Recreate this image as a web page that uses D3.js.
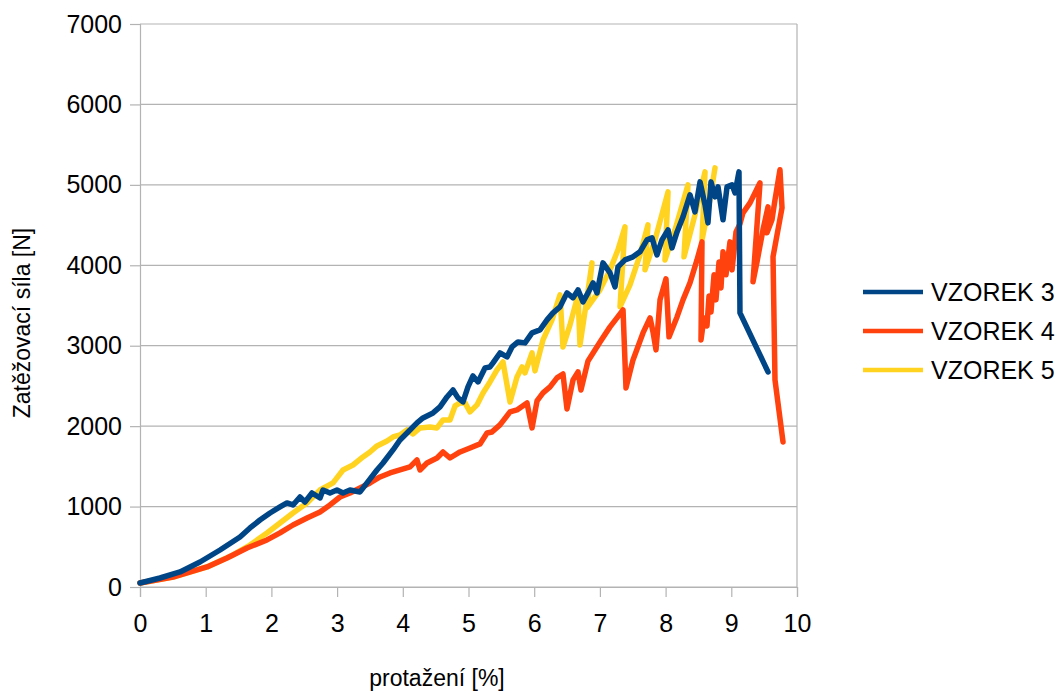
<!DOCTYPE html>
<html><head><meta charset="utf-8">
<script src="https://cdn.jsdelivr.net/npm/d3@7"></script>
<style>body{margin:0;background:#fff}text{font-family:"Liberation Sans",Arial,sans-serif;fill:#000}</style>
</head><body>
<svg id="chart" width="1061" height="691"></svg>
<script>
const xTicks=[0,1,2,3,4,5,6,7,8,9,10];
const yTicks=[0,1000,2000,3000,4000,5000,6000,7000];
const seriesNames=["VZOREK 3","VZOREK 4","VZOREK 5"];
const xTitle="protažení [%]";
const yTitle="Zatěžovací síla [N]";

const v3x=[0,0.304,0.609,0.913,1.218,1.522,1.674,1.826,1.979,2.131,2.237,2.329,2.435,2.511,2.618,2.740,2.785,2.892,2.998,3.090,3.196,3.349,3.455,3.607,3.699,3.851,3.957,4.064,4.216,4.307,4.460,4.566,4.673,4.764,4.840,4.916,4.992,5.068,5.145,5.251,5.327,5.373,5.479,5.586,5.662,5.753,5.860,5.967,6.088,6.195,6.286,6.393,6.499,6.591,6.667,6.743,6.819,6.895,6.956,7.047,7.154,7.230,7.275,7.382,7.504,7.610,7.717,7.793,7.869,7.945,8.037,8.097,8.174,8.265,8.371,8.447,8.524,8.600,8.645,8.691,8.752,8.798,8.874,8.935,9.011,9.056,9.117,9.132,9.559];
const v3y=[50,112,187,311,460,622,734,833,920,995,1045,1020,1119,1057,1169,1107,1206,1169,1206,1169,1206,1182,1294,1455,1542,1704,1828,1915,2040,2102,2164,2239,2363,2450,2351,2301,2488,2624,2550,2724,2736,2786,2910,2861,2985,3047,3035,3159,3197,3321,3408,3483,3657,3595,3694,3545,3657,3781,3657,4030,3905,3731,3980,4067,4105,4167,4316,4341,4129,4316,4440,4216,4415,4602,4876,4664,5037,4751,4527,5037,4851,4975,4565,4975,5000,4900,5162,3408,2674];

const v4x=[0,0.502,1.020,1.324,1.629,1.933,2.131,2.329,2.542,2.740,2.892,3.044,3.196,3.349,3.501,3.653,3.805,3.957,4.110,4.216,4.262,4.368,4.521,4.612,4.718,4.871,5.023,5.175,5.282,5.358,5.479,5.632,5.738,5.890,5.967,6.043,6.134,6.241,6.347,6.438,6.499,6.591,6.667,6.712,6.819,7.002,7.154,7.260,7.352,7.397,7.504,7.656,7.763,7.808,7.854,7.915,8.006,8.052,8.174,8.265,8.371,8.478,8.554,8.539,8.584,8.630,8.661,8.691,8.737,8.767,8.813,8.843,8.874,8.919,8.980,9.011,9.072,9.132,9.178,9.285,9.437,9.330,9.391,9.482,9.559,9.543,9.619,9.665,9.741,9.772,9.635,9.665,9.787];
const v4y=[50,124,249,361,485,585,672,771,858,933,1020,1119,1169,1231,1294,1368,1418,1455,1493,1580,1455,1542,1604,1679,1604,1679,1729,1779,1915,1928,2015,2177,2202,2289,1978,2313,2413,2488,2600,2649,2214,2575,2674,2450,2811,3047,3234,3346,3445,2475,2823,3159,3346,3172,2948,3570,3831,3110,3358,3570,3781,4067,4291,3072,3346,3246,3619,3420,3881,3570,4042,3719,4167,3881,4291,3943,4415,4515,4652,4776,5025,3794,4042,4440,4726,4403,4565,4813,5187,4714,4105,2575,1804];

const v5x=[0,0.502,1.020,1.416,1.674,1.933,2.131,2.329,2.542,2.740,2.938,3.090,3.242,3.394,3.501,3.607,3.760,3.851,3.957,4.064,4.155,4.262,4.414,4.521,4.612,4.718,4.795,4.871,4.947,5.023,5.129,5.221,5.327,5.434,5.525,5.632,5.738,5.814,5.860,5.967,6.012,6.134,6.271,6.393,6.438,6.545,6.667,6.697,6.788,6.880,6.804,7.002,7.154,7.275,7.382,7.306,7.458,7.610,7.732,7.686,7.839,8.037,7.991,8.143,8.341,8.280,8.447,8.600,8.554,8.661,8.752];
const v5y=[50,124,249,398,522,672,796,920,1045,1206,1294,1455,1517,1617,1679,1754,1816,1866,1891,1953,1903,1978,1990,1978,2077,2077,2251,2289,2289,2177,2264,2413,2550,2699,2799,2301,2612,2736,2662,2910,2687,3072,3321,3632,2985,3259,3632,3010,3507,4030,3470,3694,3943,4192,4478,3483,3756,4129,4503,3943,4316,4913,4067,4440,5000,4105,4627,5162,4316,4751,5211];

const colors=["#004586","#ff420e","#ffd320"];

const svg=d3.select("#chart");
svg.append("rect").attr("width",1061).attr("height",691).attr("fill","#fff");
const x=d3.scaleLinear().domain([0,10]).range([140,797]);
const y=d3.scaleLinear().domain([0,7000]).range([587,24]);
const grid="#b3b3b3";

svg.append("g").selectAll("line").data(yTicks).join("line")
  .attr("x1",x(0)).attr("x2",x(10)).attr("y1",d=>y(d)).attr("y2",d=>y(d))
  .attr("stroke",grid).attr("stroke-width",1.2);
svg.append("line").attr("x1",x(10)).attr("x2",x(10)).attr("y1",y(0)).attr("y2",y(7000))
  .attr("stroke",grid).attr("stroke-width",1.2);

const fs=25;
const ya=svg.append("g").attr("transform",`translate(${x(0)},0)`)
  .call(d3.axisLeft(y).tickValues(yTicks).tickSize(10).tickPadding(8).tickFormat(d3.format("d")));
const xa=svg.append("g").attr("transform",`translate(0,${y(0)})`)
  .call(d3.axisBottom(x).tickValues(xTicks).tickSize(10).tickPadding(17).tickFormat(d3.format("d")));
[ya,xa].forEach(a=>{
  a.selectAll("path.domain").attr("stroke",grid).attr("stroke-width",1.2);
  a.selectAll(".tick line").attr("stroke",grid).attr("stroke-width",1.2);
  a.selectAll(".tick text").attr("font-size",fs).attr("fill","#000").style("font-family","Liberation Sans, Arial, sans-serif");
});

const line=d3.line().x(d=>x(d[0])).y(d=>y(d[1]));
const series=[[v3x,v3y],[v4x,v4y],[v5x,v5y]];
const order=[2,1,0];
order.forEach(i=>{
  const [xs,ys]=series[i];
  const pts=d3.zip(xs,ys);
  svg.append("path").datum(pts).attr("d",line)
    .attr("fill","none").attr("stroke",colors[i]).attr("stroke-width",5.5)
    .attr("stroke-linejoin","round").attr("stroke-linecap","round");
});

svg.append("text").attr("x",437).attr("y",678).attr("text-anchor","middle")
  .attr("dominant-baseline","central").attr("font-size",23).text(xTitle);
svg.append("text").attr("transform","translate(22,323) rotate(-90)").attr("text-anchor","middle")
  .attr("dominant-baseline","central").attr("font-size",23).text(yTitle);

const legY=[292,331,370];
const lg=svg.append("g");
seriesNames.forEach((n,i)=>{
  lg.append("line").attr("x1",863).attr("x2",923).attr("y1",legY[i]).attr("y2",legY[i])
    .attr("stroke",colors[i]).attr("stroke-width",4.5);
  lg.append("text").attr("x",931).attr("y",legY[i]).attr("dominant-baseline","central")
    .attr("font-size",fs).text(n);
});
</script>
</body></html>
